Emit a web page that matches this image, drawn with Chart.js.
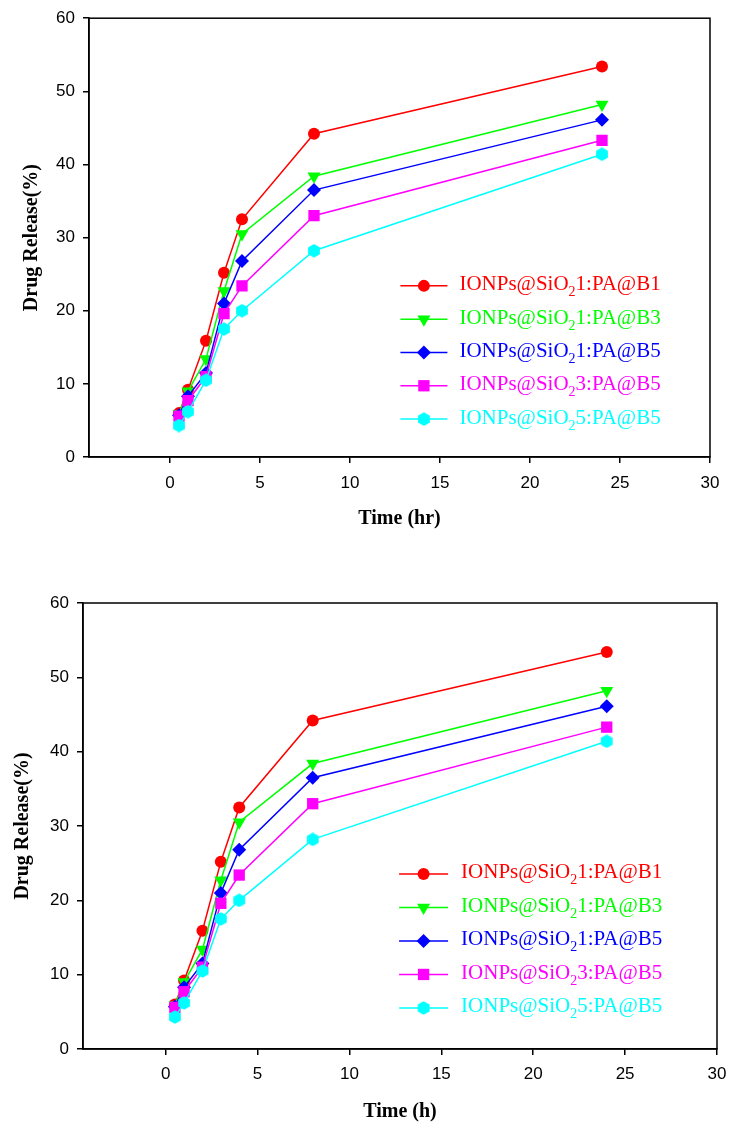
<!DOCTYPE html>
<html>
<head>
<meta charset="utf-8">
<script src="https://cdn.jsdelivr.net/npm/chart.js@4/dist/chart.umd.min.js"></script>
<style>
  body { margin: 0; background: #fff; }
  canvas { position: absolute; left: 0; }
  #chart1 { top: 0; }
  #chart2 { top: 566px; }
</style>
</head>
<body>
<canvas id="chart1" width="737" height="566"></canvas>
<canvas id="chart2" width="737" height="566"></canvas>
<script>
// sampling times (h)
const hours = [0.5, 1, 2, 3, 4, 8, 24];

// cumulative drug release (%)
const releaseSi1B1 = [6.0, 9.2, 15.9, 25.2, 32.5, 44.2, 53.4];
const releaseSi1B3 = [5.9, 9.0, 13.4, 22.7, 30.5, 38.4, 48.2];
const releaseSi1B5 = [5.7, 8.3, 11.5, 21.0, 26.8, 36.5, 46.1];
const releaseSi3B5 = [5.6, 7.7, 11.0, 19.6, 23.4, 33.0, 43.3];
const releaseSi5B5 = [4.3, 6.2, 10.5, 17.5, 20.0, 28.2, 41.4];

const seriesLabels = [
  "IONPs@SiO₂1:PA@B1",
  "IONPs@SiO₂1:PA@B3",
  "IONPs@SiO₂1:PA@B5",
  "IONPs@SiO₂3:PA@B5",
  "IONPs@SiO₂5:PA@B5"
];
const seriesValues = [releaseSi1B1, releaseSi1B3, releaseSi1B5, releaseSi3B5, releaseSi5B5];

const xTicks = [0, 5, 10, 15, 20, 25, 30];
const yTicks = [0, 10, 20, 30, 40, 50, 60];

const SERIF = '"Times New Roman", "Liberation Serif", serif';
const SANS = 'Arial, "Liberation Sans", sans-serif';

// small hexagon marker for the last series
const hexMarker = document.createElement('canvas');
hexMarker.width = 14; hexMarker.height = 14;
(() => {
  const c = hexMarker.getContext('2d');
  c.fillStyle = '#00ffff';
  c.beginPath();
  for (let k = 0; k < 6; k++) {
    const a = Math.PI / 6 + k * Math.PI / 3;
    const px = 7 + 6.8 * Math.cos(a), py = 7 + 6.8 * Math.sin(a);
    k ? c.lineTo(px, py) : c.moveTo(px, py);
  }
  c.closePath();
  c.fill();
})();

const styles = [
  { color: '#ff0000', pointStyle: 'circle', radius: 6, rotation: 0 },
  { color: '#00ff00', pointStyle: 'triangle', radius: 7.5, rotation: 180 },
  { color: '#0000ff', pointStyle: 'rectRot', radius: 7, rotation: 0 },
  { color: '#ff00ff', pointStyle: 'rect', radius: 8, rotation: 0 },
  { color: '#00ffff', pointStyle: hexMarker, radius: 6, rotation: 0 }
];

// legend with subscript, drawn inside the plot
const sketchLegend = {
  id: 'sketchLegend',
  afterDatasetsDraw(chart, args, opts) {
    const { ctx, scales: { x, y } } = chart;
    const x0 = x.getPixelForValue(opts.x);
    const y0 = y.getPixelForValue(opts.y);
    ctx.save();
    chart.data.datasets.forEach((ds, i) => {
      const st = styles[i];
      const yy = y0 + i * opts.rowGap;
      ctx.strokeStyle = st.color;
      ctx.lineWidth = 1.5;
      ctx.beginPath();
      ctx.moveTo(x0, yy);
      ctx.lineTo(x0 + opts.lineLen, yy);
      ctx.stroke();
      ctx.fillStyle = st.color;
      Chart.helpers.drawPoint(ctx, {
        pointStyle: st.pointStyle, radius: st.radius, rotation: st.rotation, borderWidth: 0
      }, x0 + opts.lineLen / 2, yy);

      const [head, tail] = ds.label.split('₂');
      let tx = x0 + opts.lineLen + opts.textGap;
      ctx.textBaseline = 'alphabetic';
      ctx.textAlign = 'left';
      ctx.font = '21px ' + SERIF;
      ctx.fillText(head, tx, yy + 4.5);
      tx += ctx.measureText(head).width;
      ctx.font = '14px ' + SERIF;
      ctx.fillText('2', tx, yy + 10.5);
      tx += ctx.measureText('2').width;
      ctx.font = '21px ' + SERIF;
      ctx.fillText(tail, tx, yy + 4.5);
    });
    ctx.restore();
  }
};

// closes the frame on the top and right
const frameBox = {
  id: 'frameBox',
  afterDraw(chart) {
    const { ctx, chartArea: a } = chart;
    ctx.save();
    ctx.strokeStyle = '#000';
    ctx.lineWidth = 1.5;
    ctx.strokeRect(a.left, a.top, a.right - a.left, a.bottom - a.top);
    ctx.restore();
  }
};

function makeChart(id, p) {
  const datasets = seriesValues.map((vals, i) => ({
    label: seriesLabels[i],
    data: hours.map((h, j) => ({ x: h, y: vals[j] })),
    borderColor: styles[i].color,
    backgroundColor: styles[i].color,
    borderWidth: 1.5,
    pointStyle: styles[i].pointStyle,
    pointRadius: styles[i].radius,
    pointRotation: styles[i].rotation,
    pointBorderWidth: 0,
    tension: 0,
    order: 4 - i
  }));

  return new Chart(document.getElementById(id), {
    type: 'line',
    data: { datasets },
    plugins: [sketchLegend, frameBox],
    options: {
      responsive: false,
      animation: false,
      layout: { padding: p.padding },
      plugins: {
        legend: { display: false },
        tooltip: { enabled: false },
        sketchLegend: p.legend
      },
      scales: {
        x: {
          type: 'linear',
          min: -4.5,
          max: 30,
          afterBuildTicks: s => { s.ticks = xTicks.map(v => ({ value: v })); },
          afterFit: s => { s.height = p.xHeight; },
          ticks: { color: '#000', font: { family: SANS, size: 17 }, padding: p.xTickPad, maxRotation: 0 },
          grid: { drawOnChartArea: false, drawTicks: true, tickLength: 6, tickColor: '#000', tickWidth: 1.5, lineWidth: 1.5 },
          border: { display: true, color: '#000', width: 1.5 },
          title: { display: true, text: p.xTitle, color: '#000', font: { family: SERIF, size: 20, weight: 'bold' } }
        },
        y: {
          min: 0,
          max: 60,
          afterBuildTicks: s => { s.ticks = yTicks.map(v => ({ value: v })); },
          afterFit: s => { s.width = p.yWidth; },
          ticks: { color: '#000', font: { family: SANS, size: 17 }, padding: 8 },
          grid: { drawOnChartArea: false, drawTicks: true, tickLength: 6, tickColor: '#000', tickWidth: 1.5, lineWidth: 1.5 },
          border: { display: true, color: '#000', width: 1.5 },
          title: { display: true, text: 'Drug Release(%)', color: '#000', padding: { top: p.yTitlePad, bottom: 0 },
                   font: { family: SERIF, size: 20, weight: 'bold' } }
        }
      }
    }
  });
}

makeChart('chart1', {
  padding: { top: 18, right: 27, bottom: 31, left: 0 },
  xHeight: 78, yWidth: 89, xTickPad: 10, yTitlePad: 20,
  xTitle: 'Time (hr)',
  legend: { x: 12.8, y: 23.4, rowGap: 33.3, lineLen: 47, textGap: 12 }
});

makeChart('chart2', {
  padding: { top: 37, right: 20, bottom: 4, left: 0 },
  xHeight: 79, yWidth: 83, xTickPad: 9, yTitlePad: 11,
  xTitle: 'Time (h)',
  legend: { x: 12.7, y: 23.55, rowGap: 33.5, lineLen: 49, textGap: 13 }
});
</script>
</body>
</html>
